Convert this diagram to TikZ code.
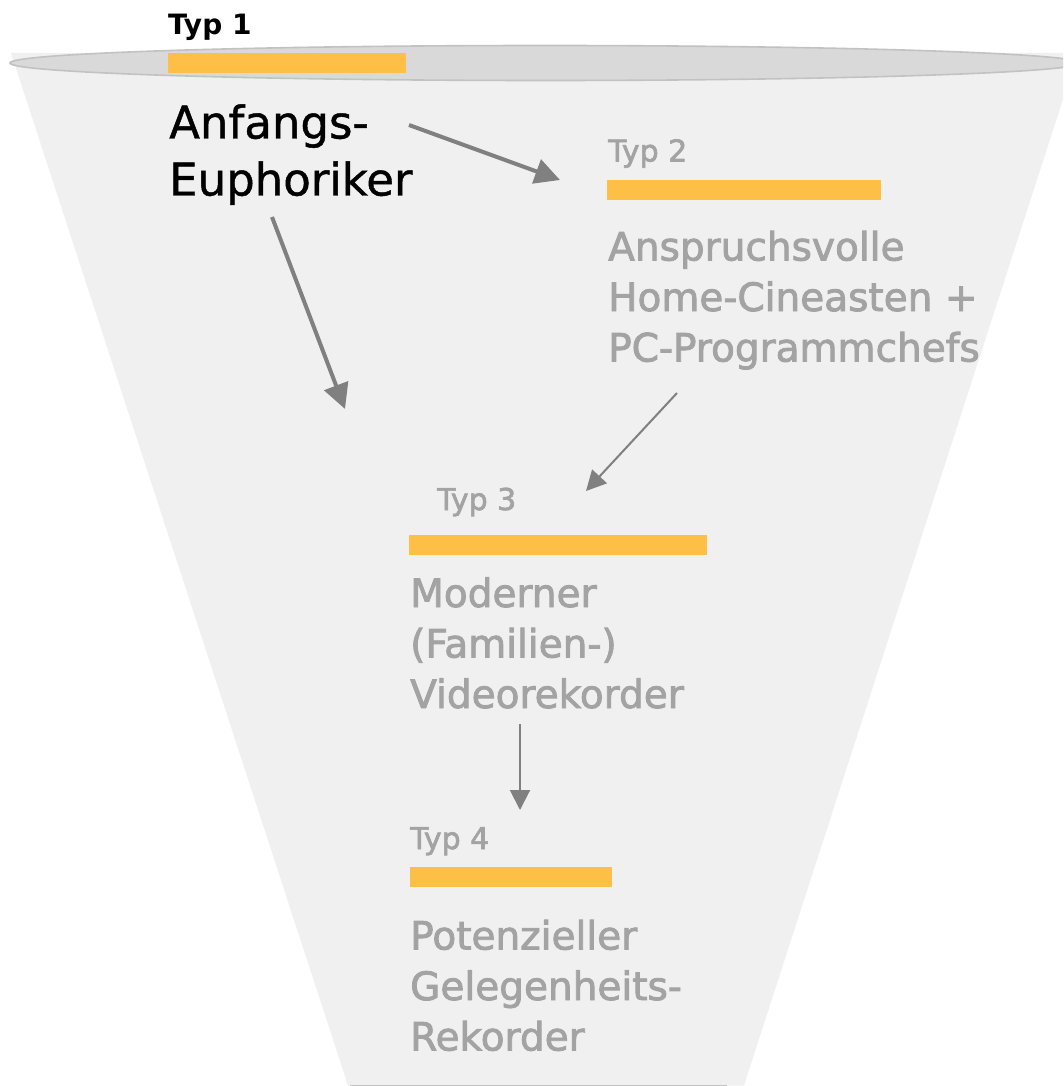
\documentclass[tikz,border=0pt]{standalone}
\usepackage{fontspec}
\setmainfont{DejaVu Sans}
\newfontfamily\mediumfont[FakeBold=2.2]{DejaVu Sans}
\newfontfamily\titlefont[FakeBold=1.0]{DejaVu Sans}
\usetikzlibrary{arrows.meta}

\definecolor{funnelfill}{HTML}{F0F0F0}
\definecolor{rimfill}{HTML}{D9D9D9}
\definecolor{rimline}{HTML}{C2C2C2}
\definecolor{barcol}{HTML}{FDBF45}
\definecolor{greytext}{HTML}{A3A3A3}
\definecolor{arrowcol}{HTML}{808080}

\begin{document}
\begin{tikzpicture}[x=1pt,y=-1pt,
  typlabel/.style={anchor=base west, inner sep=0pt, text=greytext, font=\mediumfont\fontsize{30}{36}\selectfont},
  desc/.style={anchor=base west, inner sep=0pt, text=greytext, font=\mediumfont\fontsize{39}{50.5}\selectfont},
  bar/.style={anchor=north west, fill=barcol, inner sep=0pt, minimum height=20pt},
  bigarrow/.style={draw=arrowcol, line width=4pt, -{Triangle[length=25pt,width=25pt]}},
  thinarrow/.style={draw=arrowcol, line width=2pt, -{Triangle[length=20pt,width=20pt]}}]

\useasboundingbox (0,0) rectangle (1063,1086);
\clip (0,0) rectangle (1063,1086);

% funnel body and its rim
\fill[funnelfill] (11,53) -- (1078,53) -- (744,1085.5) -- (348,1085.5) -- cycle;
\draw[rimline, line width=1.2pt] (350,1085.5) -- (727,1085.5);
\draw[rimline, fill=rimfill, line width=1.6pt] (545,63) ellipse [x radius=535, y radius=17.5];

% type 1
\node[typlabel, text=black, font=\bfseries\fontsize{28}{34}\selectfont] (t1) at (168,35) {Typ 1};
\node[bar, minimum width=238pt] (bar1) at (168,53) {};
\node[anchor=base west, inner sep=0pt, font=\titlefont\fontsize{45}{57}\selectfont] (n1) at (169,138.5)
  {\vtop{\baselineskip=57pt\hbox{Anfangs-}\hbox{Euphoriker}}};

% type 2
\node[typlabel] (t2) at (608,161.5) {Typ 2};
\node[bar, minimum width=274pt] (bar2) at (607,180) {};
\node[desc] (n2) at (608,260.5)
  {\vtop{\baselineskip=50.5pt\hbox{Anspruchsvolle}\hbox{Home-Cineasten +}\hbox{PC-Programmchefs}}};

% type 3
\node[typlabel] (t3) at (437,510) {Typ 3};
\node[bar, minimum width=298pt] (bar3) at (409,535) {};
\node[desc] (n3) at (410,607)
  {\vtop{\baselineskip=50.5pt\hbox{Moderner}\hbox{(Familien-)}\hbox{Videorekorder}}};

% type 4
\node[typlabel] (t4) at (410,849) {Typ 4};
\node[bar, minimum width=202pt] (bar4) at (410,867) {};
\node[desc] (n4) at (410,949.5)
  {\vtop{\baselineskip=50.5pt\hbox{Potenzieller}\hbox{Gelegenheits-}\hbox{Rekorder}}};

% transitions between the types
\coordinate (a1from) at (409,125);
\coordinate (a1to)   at (560,180);
\coordinate (a2from) at (272,217);
\coordinate (a2to)   at (345,409);
\coordinate (a3from) at (677,393);
\coordinate (a3to)   at (586,491);
\coordinate (a4from) at (520,724);
\coordinate (a4to)   at (520,810);
\draw[bigarrow] (a1from) -- (a1to);
\draw[bigarrow] (a2from) -- (a2to);
\draw[thinarrow] (a3from) -- (a3to);
\draw[thinarrow] (a4from) -- (a4to);
\end{tikzpicture}
\end{document}
